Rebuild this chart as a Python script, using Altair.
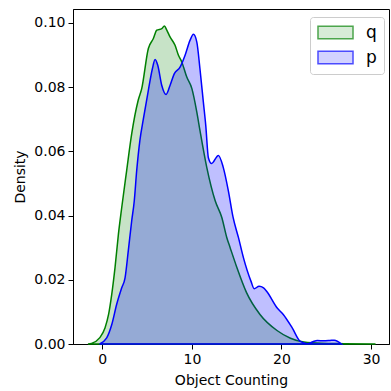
import altair as alt
import pandas as pd

# Series q (green)
q_x = [-1.6, -1.2, -0.3, 0.3, 0.7, 1.05, 1.42, 1.8, 2.17, 2.72, 3.28, 4.0, 4.4, 5.14, 5.7, 6.08,
       6.64, 6.93, 7.2, 7.56, 8.12, 8.5, 8.87, 9.43, 10.0, 10.55, 10.9, 11.66, 12.6, 13.34, 13.9,
       14.27, 15.0, 16.1, 17.6, 19.5, 21.0, 22.5, 24.5, 27.0, 30.5]
q_y = [0, 0.0002, 0.0019, 0.005, 0.0092, 0.0154, 0.0238, 0.0342, 0.0425, 0.054, 0.0654, 0.0758,
       0.0795, 0.092, 0.0951, 0.0977, 0.0982, 0.099, 0.0977, 0.0956, 0.093, 0.0899, 0.0878, 0.0831,
       0.0795, 0.0722, 0.0665, 0.055, 0.0446, 0.0394, 0.0331, 0.030, 0.024, 0.016, 0.0092, 0.0042,
       0.0018, 0.0006, 0.0002, 0.0001, 0]

# Series p (blue)
p_x = [-0.3, 0.49, 1.05, 1.6, 2.17, 2.54, 2.9, 3.28, 3.57, 3.84, 4.2, 4.58, 5.14, 5.59, 5.89,
       6.19, 6.64, 7.12, 7.56, 8.04, 8.68, 9.24, 9.8, 10.17, 10.55, 10.9, 11.28, 11.55, 11.84,
       12.2, 12.96, 13.5, 14.07, 14.6, 15.2, 15.75, 16.6, 16.95, 17.5, 18.0, 18.4, 19.5, 20.2,
       21.2, 22.1, 22.9, 23.5, 24.0, 24.7, 25.4, 25.9, 26.7]
p_y = [0, 0.0019, 0.006, 0.0123, 0.0175, 0.0206, 0.029, 0.0383, 0.0446, 0.054, 0.0635, 0.070,
       0.079, 0.0857, 0.0886, 0.0868, 0.0805, 0.0777, 0.0805, 0.0842, 0.0862, 0.0899, 0.0946,
       0.0964, 0.094, 0.0857, 0.0753, 0.068, 0.058, 0.0562, 0.0587, 0.055, 0.0477, 0.0394,
       0.0331, 0.0269, 0.0195, 0.0172, 0.018, 0.0175, 0.0162, 0.0113, 0.0092, 0.005, 0.0008,
       0.0001, 0.0007, 0.0011, 0.001, 0.0011, 0.0012, 0]

series_names = ["q", "p"]
series_colors = ["green", "blue"]
series_alpha = [0.22, 0.25]
legend_fill_colors = ["#c7e3c7", "#bfbfff"]  # the fills as they look on white
x_ticks = [0, 10, 20, 30]
y_ticks = [0.0, 0.02, 0.04, 0.06, 0.08, 0.10]

df = pd.concat([
    pd.DataFrame({"x": q_x, "y": q_y, "series": "q"}),
    pd.DataFrame({"x": p_x, "y": p_y, "series": "p"}),
])
legend_df = pd.DataFrame({"series": series_names})

xs = alt.Scale(domain=[-3.27, 32.0], nice=False, zero=False)
ys = alt.Scale(domain=[0, 0.1043], nice=False)
cs = alt.Scale(domain=series_names, range=series_colors)
os_ = alt.Scale(domain=series_names, range=series_alpha)
ls = alt.Scale(domain=series_names, range=legend_fill_colors)

legend = alt.Legend(
    title=None, orient="none", legendX=237, legendY=8,
    symbolType="M-2.5,-0.9H2.5V0.9H-2.5Z", symbolSize=196, symbolStrokeWidth=1.5,
    symbolOffset=10,
    labelFontSize=17, labelFont="DejaVu Sans", labelColor="black", labelOffset=22,
    rowPadding=6, padding=7, strokeColor="#cccccc", fillColor="white", cornerRadius=3,
)

base = alt.Chart(df).encode(
    x=alt.X("x:Q", scale=xs, axis=alt.Axis(values=x_ticks, format="d", title="Object Counting")),
    y=alt.Y("y:Q", scale=ys, stack=None,
            axis=alt.Axis(values=y_ticks, format=".2f", title="Density")),
    fill=alt.Fill("series:N", scale=cs, legend=None),
    stroke=alt.Stroke("series:N", scale=cs, legend=None),
    fillOpacity=alt.FillOpacity("series:N", scale=os_, legend=None),
)

q_layer = base.transform_filter(alt.datum.series == "q").mark_area(
    interpolate="monotone", strokeWidth=1.5)
p_layer = base.transform_filter(alt.datum.series == "p").mark_area(
    interpolate="monotone", strokeWidth=1.5)
areas = alt.layer(q_layer, p_layer)

legend_layer = alt.Chart(legend_df).transform_filter("false").mark_square().encode(
    fill=alt.Fill("series:N", scale=ls, legend=legend),
    stroke=alt.Stroke("series:N", scale=cs, legend=legend),
)

chart = alt.layer(areas, legend_layer).resolve_scale(
    fill="independent", stroke="independent"
).properties(
    width=316, height=335,
    autosize=alt.AutoSizeParams(type="none"),
    padding={"left": 73, "top": 9, "right": 2, "bottom": 47},
    background="white",
).configure_view(
    stroke="black", strokeWidth=1
).configure_axis(
    grid=False, domainColor="black", tickColor="black", tickSize=5, domainWidth=1,
    labelFont="DejaVu Sans", labelFontSize=14, labelColor="black", labelPadding=3,
    titleFont="DejaVu Sans", titleFontSize=14, titleFontWeight="normal", titleColor="black",
).configure_axisY(titlePadding=6).configure_axisX(titlePadding=7)

chart.save("out.html", embed_options={"renderer": "svg", "actions": False})
